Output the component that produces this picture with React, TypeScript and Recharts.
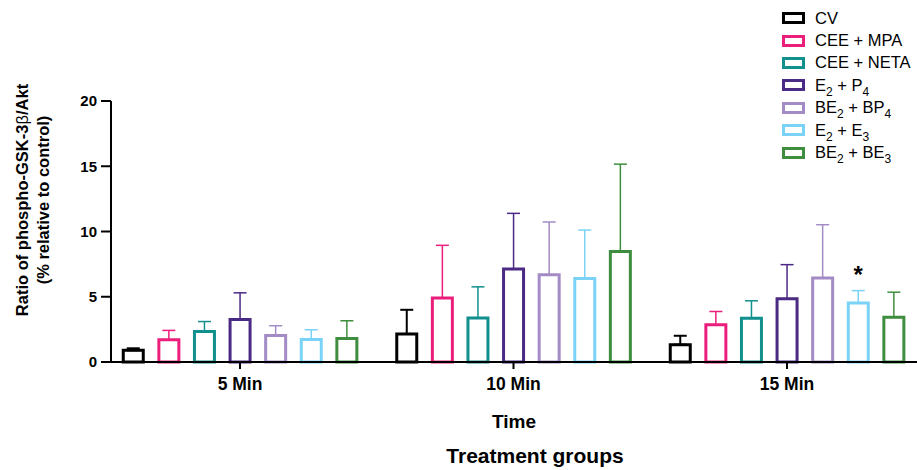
import { BarChart, Bar, XAxis, YAxis, ErrorBar, LabelList, Legend } from "recharts";

const categories = ["5 Min", "10 Min", "15 Min"];
const seriesNames = ["CV", "CEE + MPA", "CEE + NETA", "E2 + P4", "BE2 + BP4", "E2 + E3", "BE2 + BE3"];
const seriesColors = ["#000000", "#EC1E7B", "#11908E", "#4B2A85", "#A38BC6", "#7AD3F7", "#3F8D3F"];

// mean per time point, one array per treatment
const cvMeans = [0.9, 2.15, 1.33];
const mpaMeans = [1.7, 4.9, 2.86];
const netaMeans = [2.33, 3.37, 3.35];
const e2p4Means = [3.25, 7.12, 4.85];
const be2bp4Means = [2.04, 6.69, 6.43];
const e2e3Means = [1.73, 6.4, 4.52];
const be2be3Means = [1.8, 8.47, 3.42];

// upper error (SEM) per time point
const cvErr = [0.15, 1.85, 0.68];
const mpaErr = [0.72, 4.04, 1.01];
const netaErr = [0.77, 2.39, 1.34];
const e2p4Err = [2.05, 4.27, 2.61];
const be2bp4Err = [0.74, 4.04, 4.09];
const e2e3Err = [0.74, 3.71, 0.95];
const be2be3Err = [1.36, 6.69, 1.93];

const e2e3Significance = ["", "", "*"];

const yTicks = [0, 5, 10, 15, 20];

const allMeans = [cvMeans, mpaMeans, netaMeans, e2p4Means, be2bp4Means, e2e3Means, be2be3Means];
const allErr = [cvErr, mpaErr, netaErr, e2p4Err, be2bp4Err, e2e3Err, be2be3Err];

const data = categories.map((cat, i) => {
  const row: Record<string, any> = { x: i, cat, sig: e2e3Significance[i] };
  allMeans.forEach((m, s) => {
    row[`s${s}`] = m[i];
    row[`s${s}err`] = [0, allErr[s][i]];
  });
  return row;
});

const FONT = "'Liberation Sans', Arial, Helvetica, sans-serif";

const renderName = (name: string) =>
  name.split(/(\d)/).map((part, i) =>
    /\d/.test(part) ? (
      <sub key={i} style={{ fontSize: 12, verticalAlign: "-5px", lineHeight: 0 }}>
        {part}
      </sub>
    ) : (
      <span key={i}>{part}</span>
    )
  );

const LegendBox = () => (
  <div style={{ fontFamily: FONT, fontSize: 16.5, color: "#000" }}>
    {seriesNames.map((n, i) => (
      <div key={n} style={{ display: "flex", alignItems: "center", height: 22.4 }}>
        <div
          style={{
            width: 17,
            height: 6,
            border: `3px solid ${seriesColors[i]}`,
            background: "#fff",
          }}
        />
        <div style={{ marginLeft: 10, whiteSpace: "nowrap" }}>{renderName(n)}</div>
      </div>
    ))}
  </div>
);

const YLabel = () => (
  <g fontFamily={FONT} fontWeight="bold" fontSize={16.5} fill="#000">
    <text transform="translate(28,200) rotate(-90)" textAnchor="middle">
      Ratio of phospho-GSK-3<tspan fontWeight="normal">β</tspan>/Akt
    </text>
    <text transform="translate(49,200) rotate(-90)" textAnchor="middle">
      (% relative to control)
    </text>
  </g>
);

const XLabel = (props: any) => {
  const { x, y, width } = props.viewBox;
  const cx = x + width / 2;
  return (
    <g fontFamily={FONT} fontWeight="bold" fill="#000">
      <text x={cx} y={y + 66} textAnchor="middle" fontSize={19}>
        Time
      </text>
      <text x={cx + 21} y={y + 101} textAnchor="middle" fontSize={21}>
        Treatment groups
      </text>
    </g>
  );
};

const Star = (props: any) => {
  const { x, y, width, value } = props;
  if (!value) return null;
  return (
    <text
      x={x + width / 2}
      y={y - 20}
      textAnchor="middle"
      fontFamily={FONT}
      fontWeight="bold"
      fontSize={24}
      fill="#000"
    >
      {value}
    </text>
  );
};

export default function App() {
  return (
    <div style={{ position: "absolute", left: 0, top: 0, width: 917, height: 470, background: "#fff" }}>
      <BarChart
        width={917}
        height={470}
        data={data}
        margin={{ top: 101, right: 0, bottom: 68, left: 0 }}
        barSize={20}
        barGap={15.6}
      >
        <XAxis
          type="number"
          dataKey="x"
          domain={[-0.4717, 2.4753]}
          ticks={[0, 1, 2]}
          tickFormatter={(v: number) => categories[v] ?? ""}
          height={40}
          axisLine={{ stroke: "#000", strokeWidth: 2 }}
          tickLine={{ stroke: "#000", strokeWidth: 2 }}
          tickSize={7}
          tickMargin={9}
          tick={{ fill: "#000", fontFamily: FONT, fontWeight: "bold", fontSize: 17.5 }}
          label={<XLabel />}
        />
        <YAxis
          width={111}
          domain={[0, 20]}
          ticks={yTicks}
          interval={0}
          axisLine={{ stroke: "#000", strokeWidth: 2 }}
          tickLine={{ stroke: "#000", strokeWidth: 2 }}
          tickSize={10}
          tickMargin={4}
          tick={{ fill: "#000", fontFamily: FONT, fontWeight: "bold", fontSize: 15 }}
          label={<YLabel />}
        />
        <Legend
          layout="vertical"
          align="center"
          verticalAlign="middle"
          wrapperStyle={{ top: 7, left: 782, width: 135 }}
          content={() => <LegendBox />}
        />
        {seriesNames.map((name, s) => (
          <Bar
            key={name}
            dataKey={`s${s}`}
            name={name}
            fill="#fff"
            stroke={seriesColors[s]}
            strokeWidth={3}
            isAnimationActive={false}
          >
            <ErrorBar
              dataKey={`s${s}err`}
              direction="y"
              width={6.5}
              stroke={seriesColors[s]}
              strokeWidth={s === 0 ? 2 : 1.5}
              isAnimationActive={false}
            />
            {s === 5 && <LabelList dataKey="sig" content={<Star />} />}
          </Bar>
        ))}
      </BarChart>
    </div>
  );
}
